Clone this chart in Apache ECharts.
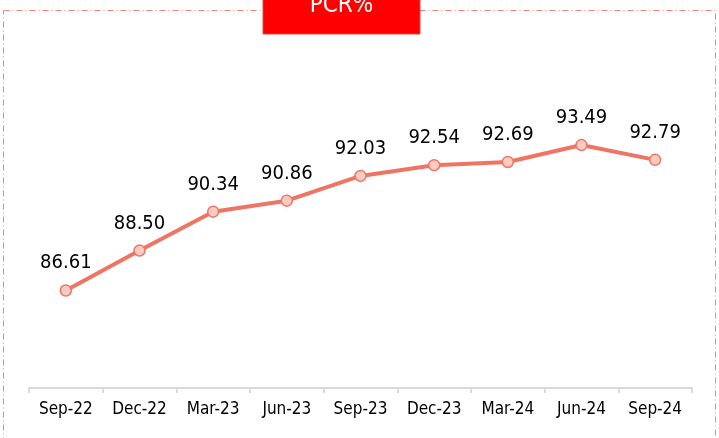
<!DOCTYPE html>
<html>
<head>
<meta charset="utf-8">
<script src="https://cdn.jsdelivr.net/npm/echarts@6/dist/echarts.min.js"></script>
<style>
  html, body { margin: 0; padding: 0; background: #fff; }
  #chart { width: 719px; height: 438px; }
</style>
</head>
<body>
<div id="chart"></div>
<script>
// quarters on the x axis
const quarters = ["Sep-22", "Dec-22", "Mar-23", "Jun-23", "Sep-23", "Dec-23", "Mar-24", "Jun-24", "Sep-24"];
// PCR % per quarter
const pcrValues = [86.61, 88.50, 90.34, 90.86, 92.03, 92.54, 92.69, 93.49, 92.79];
const titleText = "PCR%";

const chart = echarts.init(document.getElementById("chart"));

const option = {
  animation: false,
  grid: { left: 29, right: 27, top: 92, bottom: 50 },
  xAxis: {
    type: "category",
    data: quarters,
    boundaryGap: true,
    axisLine: { lineStyle: { color: "#d9d9d9", width: 2 } },
    axisTick: { show: true, length: 5, lineStyle: { color: "#d9d9d9", width: 2 } },
    axisLabel: {
      color: "#000",
      fontFamily: "DejaVu Sans Condensed",
      fontSize: 17,
      margin: 13,
    },
  },
  yAxis: {
    type: "value",
    min: 82,
    max: 96,
    show: false,
  },
  graphic: [
    {
      type: "rect",
      z: 0,
      silent: true,
      shape: { x: 3.5, y: 10.5, width: 712, height: 460 },
      style: { fill: "none", stroke: "#ec8878", lineWidth: 1, lineDash: [6, 3, 1, 3] },
    },
    {
      type: "rect",
      z: 10,
      shape: { x: 263, y: -10, width: 157, height: 44 },
      style: { fill: "#ff0000", stroke: "#d84a4a", lineWidth: 1 },
    },
    {
      type: "text",
      z: 11,
      x: 341.5,
      y: 6,
      style: {
        text: titleText,
        fill: "#fff",
        font: "24px 'DejaVu Sans Condensed'",
        textAlign: "center",
        textVerticalAlign: "middle",
      },
    },
  ],
  series: [
    {
      type: "line",
      data: pcrValues,
      symbol: "circle",
      symbolSize: 11,
      lineStyle: { color: "#ee7563", width: 4 },
      itemStyle: { color: "#f9cbc3", borderColor: "#ee7563", borderWidth: 1.5 },
      label: {
        show: true,
        position: "top",
        distance: 11,
        color: "#000",
        fontFamily: "DejaVu Sans Condensed",
        fontSize: 20,
        formatter: (p) => p.value.toFixed(2),
      },
    },
  ],
};

chart.setOption(option);
</script>
</body>
</html>
